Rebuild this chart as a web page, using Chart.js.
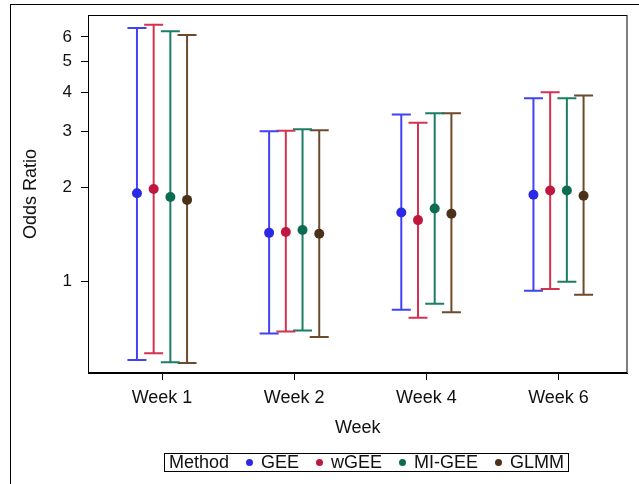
<!DOCTYPE html>
<html>
<head>
<meta charset="utf-8">
<script src="https://cdn.jsdelivr.net/npm/chart.js@4/dist/chart.umd.min.js"></script>
<style>
  html, body { margin: 0; padding: 0; background: #fff; }
  #wrap { position: relative; width: 639px; height: 484px; overflow: hidden; }
  #outer { position: absolute; left: 10px; top: 4px; width: 700px; height: 600px;
           border-left: 1px solid #000; border-top: 1px solid #000; }
  canvas { position: absolute; left: 0; top: 0; }
  #legend { position: absolute; left: 164px; top: 453px; width: 395px; height: 17px;
            border: 1px solid #000; display: flex; align-items: center; justify-content: space-between;
            padding: 0 4px; box-sizing: content-box;
            font: 18px "Liberation Sans", Arial, sans-serif; color: #111; line-height: 17px; }
  #legend .item { display: flex; align-items: center; }
  #legend .dot { width: 7px; height: 7px; border-radius: 50%; margin-right: 8px; }
</style>
</head>
<body>
<div id="wrap">
  <div id="outer"></div>
  <canvas id="c" width="639" height="484" style="width:639px;height:484px"></canvas>
  <div id="legend"></div>
</div>
<script>
// Categories and methods
const weeks = ['Week 1', 'Week 2', 'Week 4', 'Week 6'];
const methods = ['GEE', 'wGEE', 'MI-GEE', 'GLMM'];
const yTicks = [1, 2, 3, 4, 5, 6];

// Odds ratios with 95% confidence limits, one array per method
const orGEE   = [1.91, 1.43, 1.66, 1.89];
const loGEE   = [0.564, 0.685, 0.815, 0.936];
const hiGEE   = [6.40, 3.01, 3.40, 3.83];

const orWGEE  = [1.97, 1.44, 1.57, 1.95];
const loWGEE  = [0.593, 0.695, 0.768, 0.948];
const hiWGEE  = [6.55, 3.02, 3.20, 4.00];

const orMIGEE = [1.86, 1.46, 1.71, 1.95];
const loMIGEE = [0.555, 0.700, 0.851, 1.00];
const hiMIGEE = [6.25, 3.05, 3.43, 3.83];

const orGLMM  = [1.82, 1.42, 1.645, 1.876];
const loGLMM  = [0.552, 0.667, 0.800, 0.909];
const hiGLMM  = [6.08, 3.03, 3.43, 3.91];

const estimates = [orGEE, orWGEE, orMIGEE, orGLMM];
const lowers = [loGEE, loWGEE, loMIGEE, loGLMM];
const uppers = [hiGEE, hiWGEE, hiMIGEE, hiGLMM];

// Styling
const lineColors = ['#4141f5', '#d23350', '#1b7d63', '#6d4a2c'];
const dotColors  = ['#2a2ae6', '#c01740', '#0d6b50', '#4c3119'];
const FONT = '"Liberation Sans", Arial, sans-serif';
const clusterStep = 0.1264;   // horizontal spacing between methods within a week

const datasets = [];
methods.forEach((m, k) => {
  const off = (k - 1.5) * clusterStep;
  // estimate markers
  datasets.push({
    label: m,
    data: weeks.map((w, i) => ({ x: i + 1 + off, y: estimates[k][i] })),
    showLine: false,
    pointRadius: 5,
    pointBorderWidth: 0,
    pointBackgroundColor: dotColors[k],
    pointBorderColor: dotColors[k],
    order: 0
  });
  // confidence interval whiskers with caps
  const seg = [];
  weeks.forEach((w, i) => {
    seg.push({ x: i + 1 + off, y: lowers[k][i] });
    seg.push({ x: i + 1 + off, y: uppers[k][i] });
    seg.push({ x: i + 1 + off, y: null });
  });
  datasets.push({
    label: m + ' CI',
    data: seg,
    showLine: true,
    spanGaps: false,
    borderColor: lineColors[k],
    borderWidth: 2,
    pointStyle: 'line',
    pointRadius: 9.5,
    pointBorderWidth: 2,
    pointBorderColor: lineColors[k],
    pointBackgroundColor: lineColors[k],
    order: 1
  });
});

// Box around the plotting area
const frame = {
  id: 'frame',
  afterDraw(chart) {
    const { ctx, chartArea: a } = chart;
    ctx.save();
    ctx.strokeStyle = '#000';
    ctx.lineWidth = 1;
    ctx.strokeRect(a.left + 0.5, a.top + 0.5, a.right - a.left - 1, a.bottom - a.top - 1);
    ctx.restore();
  }
};

// Axis boxes have fixed sizes; edge label padding is not needed
const noEdgePadding = s => { s.paddingTop = 0; s.paddingBottom = 0; s.paddingLeft = 0; s.paddingRight = 0; };

new Chart(document.getElementById('c'), {
  type: 'scatter',
  data: { datasets },
  options: {
    responsive: false,
    animation: false,
    devicePixelRatio: 1,
    events: [],
    layout: { padding: { left: 10, top: 15, right: 2, bottom: 42 } },
    plugins: { legend: { display: false }, tooltip: { enabled: false } },
    scales: {
      x: {
        type: 'linear',
        min: 0.44,
        max: 4.522,
        afterBuildTicks: s => { s.ticks = weeks.map((w, i) => ({ value: i + 1 })); },
        afterFit: s => { s.height = 69; noEdgePadding(s); },
        ticks: {
          callback: v => weeks[Math.round(v) - 1],
          font: { family: FONT, size: 18 },
          color: '#111',
          padding: 7,
          maxRotation: 0,
          autoSkip: false
        },
        grid: { drawOnChartArea: false, drawTicks: true, tickLength: 7, color: '#000' },
        border: { display: true, color: '#000', width: 1 },
        title: { display: true, text: 'Week', font: { family: FONT, size: 18 }, color: '#111',
                 padding: { top: 4, bottom: 3 } }
      },
      y: {
        type: 'logarithmic',
        min: 0.513,
        max: 7.04,
        afterBuildTicks: s => { s.ticks = yTicks.map(v => ({ value: v })); },
        afterFit: s => { s.width = 78; noEdgePadding(s); },
        ticks: {
          callback: v => String(v),
          font: { family: FONT, size: 17 },
          color: '#111',
          padding: 9,
          autoSkip: false
        },
        grid: { drawOnChartArea: false, drawTicks: true, tickLength: 7, color: '#000' },
        border: { display: true, color: '#000', width: 1 },
        title: { display: true, text: 'Odds Ratio', font: { family: FONT, size: 18 }, color: '#111',
                 padding: { top: 10, bottom: 4 } }
      }
    }
  },
  plugins: [frame]
});

// Legend row
const legend = document.getElementById('legend');
const head = document.createElement('span');
head.textContent = 'Method';
legend.appendChild(head);
methods.forEach((m, k) => {
  const item = document.createElement('span');
  item.className = 'item';
  const dot = document.createElement('span');
  dot.className = 'dot';
  dot.style.background = dotColors[k];
  const txt = document.createElement('span');
  txt.textContent = m;
  item.appendChild(dot);
  item.appendChild(txt);
  legend.appendChild(item);
});
</script>
</body>
</html>
